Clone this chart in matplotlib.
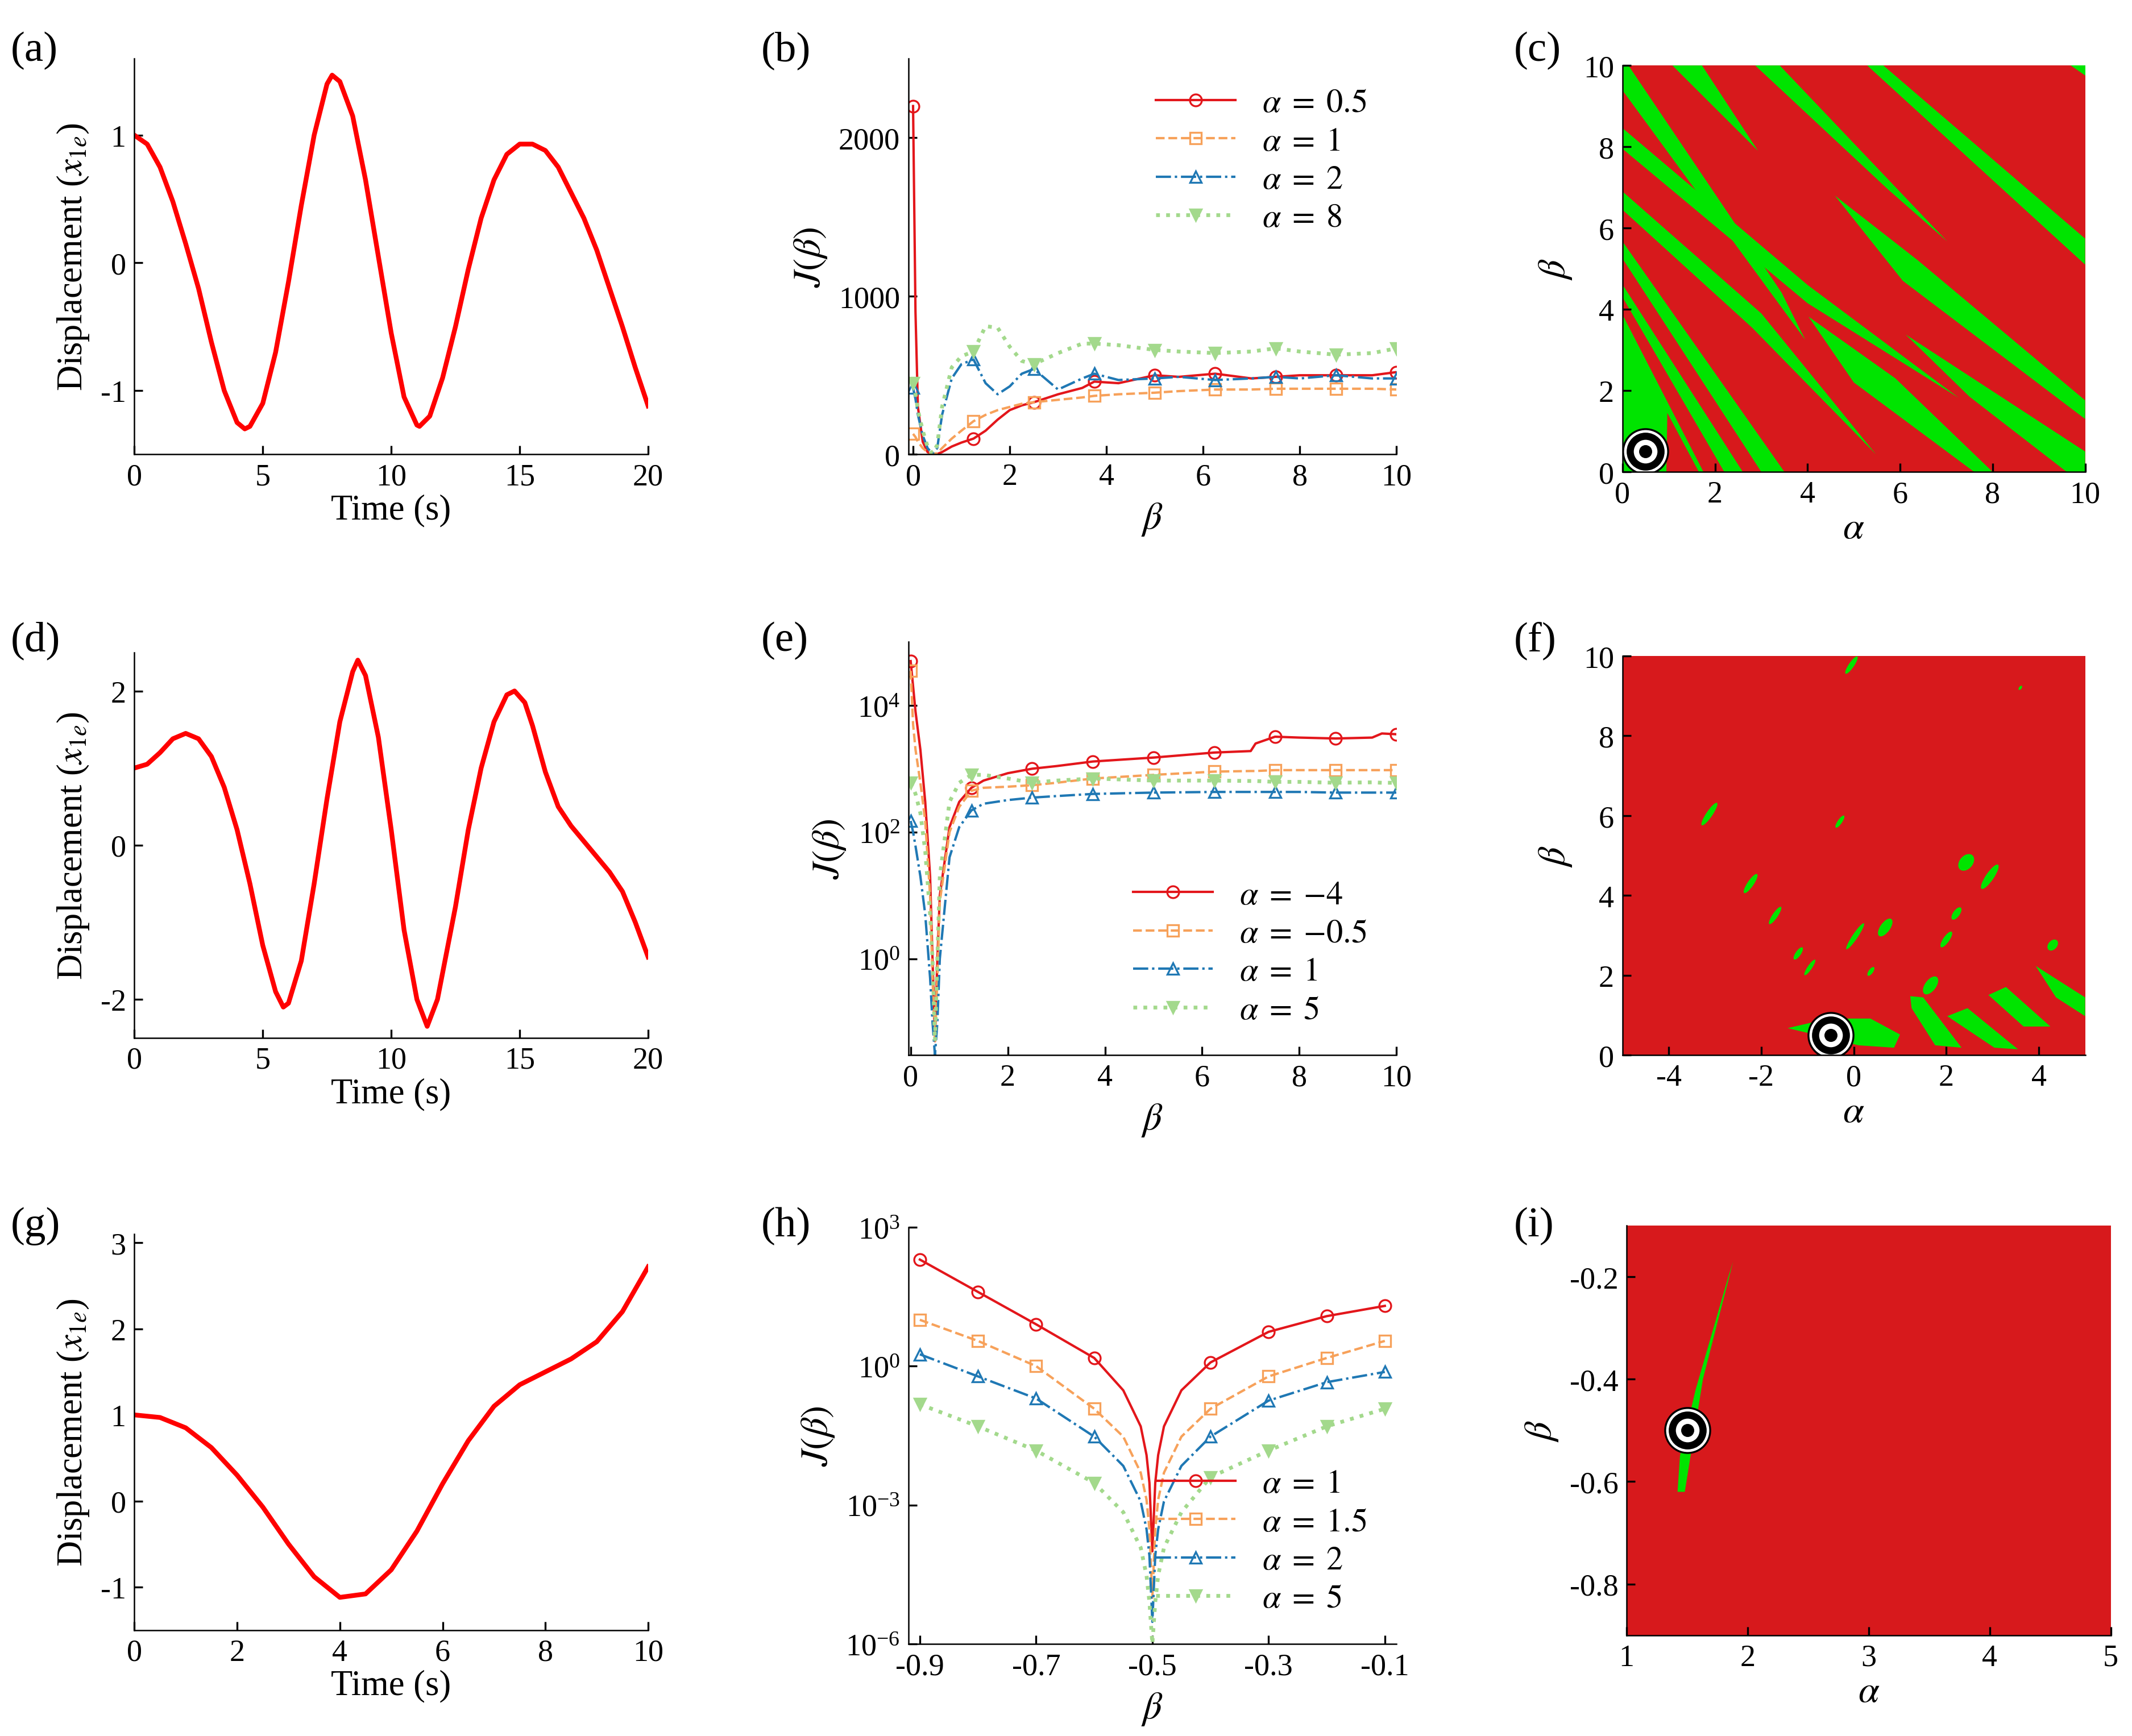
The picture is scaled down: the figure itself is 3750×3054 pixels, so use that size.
#!/usr/bin/env python3
"""Draw the 3x3 figure: displacement, J(beta) curves and (alpha, beta) stability maps."""

from __future__ import annotations

import matplotlib

matplotlib.use("Agg")
import matplotlib.pyplot as plt
import numpy as np
from matplotlib.patches import Ellipse, Polygon

# --- displacement curves -------------------------------------------------
t_a = [0, 0.5, 1, 1.5, 2, 2.5, 3, 3.5, 4, 4.3, 4.5, 5, 5.5, 6, 6.5, 7, 7.5, 7.7, 8, 8.5, 9,
       9.5, 10, 10.5, 11, 11.1, 11.5, 12, 12.5, 13, 13.5, 14, 14.5, 15, 15.5, 16, 16.5, 17,
       17.5, 18, 18.5, 19, 19.5, 20]
x_a = [1.0, 0.93, 0.75, 0.48, 0.15, -0.2, -0.62, -1.0, -1.25, -1.3, -1.28, -1.1, -0.7, -0.15,
       0.45, 1.0, 1.4, 1.47, 1.42, 1.15, 0.65, 0.05, -0.55, -1.05, -1.27, -1.28, -1.2, -0.9,
       -0.5, -0.05, 0.35, 0.65, 0.85, 0.93, 0.93, 0.88, 0.75, 0.55, 0.35, 0.1, -0.2, -0.5,
       -0.82, -1.12]
t_d = [0, 0.5, 1, 1.5, 2, 2.5, 3, 3.5, 4, 4.5, 5, 5.5, 5.8, 6, 6.5, 7, 7.5, 8, 8.5, 8.7, 9,
       9.5, 10, 10.5, 11, 11.4, 11.8, 12.5, 13, 13.5, 14, 14.5, 14.8, 15.2, 15.5, 16, 16.5,
       17, 17.5, 18, 18.5, 19, 19.5, 20]
x_d = [1.0, 1.05, 1.2, 1.38, 1.45, 1.38, 1.15, 0.75, 0.2, -0.5, -1.3, -1.9, -2.1, -2.05,
       -1.5, -0.5, 0.6, 1.6, 2.25, 2.4, 2.2, 1.4, 0.2, -1.1, -2.0, -2.35, -2.0, -0.8, 0.2,
       1.0, 1.6, 1.95, 2.0, 1.85, 1.55, 0.95, 0.5, 0.25, 0.05, -0.15, -0.35, -0.6, -1.0, -1.45]
t_g = [0, 0.5, 1, 1.5, 2, 2.5, 3, 3.5, 4, 4.5, 5, 5.5, 6, 6.5, 7, 7.5, 8, 8.5, 9, 9.5, 10]
x_g = [1.0, 0.97, 0.85, 0.62, 0.3, -0.07, -0.5, -0.88, -1.12, -1.08, -0.8, -0.35, 0.2, 0.7,
       1.1, 1.35, 1.5, 1.65, 1.85, 2.2, 2.72]

# --- J(beta), panel (b) ----------------------------------------------------
beta_b = [0, 0.05, 0.1, 0.2, 0.3, 0.4, 0.5, 0.6, 0.8, 1.0, 1.25, 1.5, 1.75, 2.0, 2.25, 2.5,
          3.0, 3.5, 3.75, 4.25, 5.0, 5.5, 6.25, 7.0, 7.5, 8.0, 8.75, 9.5, 10]
J_b = {
    "0.5": [2200, 900, 300, 80, 15, 2, 3, 15, 50, 75, 100, 150, 220, 280, 310, 330, 380, 420,
            460, 450, 500, 490, 510, 480, 490, 500, 500, 500, 520],
    "1": [130, 110, 80, 40, 15, 3, 8, 40, 100, 150, 210, 250, 280, 300, 320, 330, 345, 360,
          370, 380, 390, 400, 410, 410, 415, 415, 415, 415, 410],
    "2": [420, 350, 250, 120, 40, 5, 40, 250, 480, 570, 600, 450, 380, 430, 510, 540, 410,
          480, 510, 470, 480, 490, 470, 480, 490, 480, 500, 480, 480],
    "8": [450, 380, 280, 150, 50, 5, 60, 300, 550, 620, 650, 810, 800, 680, 590, 570, 640,
          700, 700, 690, 660, 650, 640, 650, 670, 650, 630, 640, 670],
}
marks_b = [0, 1.25, 2.5, 3.75, 5, 6.25, 7.5, 8.75, 10]

# --- J(beta), panel (e) ----------------------------------------------------
beta_e = [0, 0.05, 0.1, 0.2, 0.3, 0.4, 0.45, 0.5, 0.55, 0.6, 0.8, 1.0, 1.25, 1.5, 2.0, 2.5,
          3.0, 3.75, 5.0, 6.25, 7.0, 7.1, 7.5, 8.0, 8.75, 9.5, 9.7, 10]
J_e = {
    "-4": [5e4, 2e4, 8e3, 2000, 300, 20, 1, 0.05, 1, 10, 120, 300, 500, 650, 850, 1000, 1100,
           1300, 1500, 1800, 1900, 2500, 3200, 3100, 3000, 3100, 3600, 3500],
    "-0.5": [3.5e4, 5000, 2000, 600, 150, 10, 0.5, 0.05, 0.5, 8, 100, 250, 450, 500, 520, 550,
             600, 700, 800, 900, 920, 920, 950, 950, 950, 950, 950, 950],
    "1": [150, 100, 60, 20, 5, 0.5, 0.1, 0.03, 0.1, 1, 40, 120, 220, 280, 320, 350, 370, 400,
          420, 430, 430, 430, 430, 430, 420, 420, 420, 420],
    "5": [600, 500, 400, 200, 50, 5, 1, 0.05, 1, 20, 300, 600, 800, 800, 700, 600, 650, 700,
          650, 650, 640, 640, 620, 620, 600, 610, 600, 600],
}
marks_e = [0, 1.25, 2.5, 3.75, 5, 6.25, 7.5, 8.75, 10]

# --- J(beta), panel (h) ----------------------------------------------------
beta_h = [-0.9, -0.8, -0.7, -0.6, -0.55, -0.52, -0.51, -0.505, -0.5, -0.495, -0.49, -0.48,
          -0.45, -0.4, -0.3, -0.2, -0.1]
J_h = {
    "1": [200, 40, 8, 1.5, 0.3, 0.05, 0.012, 0.003, 1e-4, 0.003, 0.012, 0.05, 0.3, 1.2, 5.5,
          12, 20],
    "1.5": [10, 3.5, 1.0, 0.12, 0.03, 0.005, 0.0013, 3e-4, 1e-5, 3e-4, 0.0013, 0.005, 0.03,
            0.12, 0.6, 1.5, 3.5],
    "2": [1.8, 0.6, 0.2, 0.03, 0.007, 0.0012, 3e-4, 8e-5, 3e-6, 8e-5, 3e-4, 0.0012, 0.007,
          0.03, 0.18, 0.45, 0.75],
    "5": [0.15, 0.05, 0.015, 0.003, 7e-4, 1.2e-4, 3e-5, 8e-6, 1e-6, 8e-6, 3e-5, 1.2e-4, 7e-4,
          0.004, 0.015, 0.05, 0.12],
}
marks_h = [-0.9, -0.8, -0.7, -0.6, -0.4, -0.3, -0.2, -0.1]

# --- stable (green) regions of the maps, vertices as (alpha, beta) ------------
regions_c = [
    [(0, 10), (0.13, 10), (3.44, 4.41), (3.95, 3.25), (0, 9.39)],
    [(1.08, 10), (1.72, 10), (2.93, 7.9)],
    [(0, 8.46), (4.0, 4.6), (7.27, 1.82), (4.0, 4.15), (0, 7.95)],
    [(0, 6.9), (3.0, 3.9), (5.48, 0.43), (2.8, 3.55), (0, 6.45)],
    [(0, 5.67), (3.5, 0), (3.0, 0), (0, 5.25)],
    [(0, 4.61), (2.6, 0), (2.2, 0), (0, 4.3)],
    [(0, 3.87), (0, 0), (0.95, 0), (0.97, 1.45), (1.65, 0), (1.75, 0)],
    [(2.87, 10), (3.4, 10), (7.02, 5.67), (5.74, 6.95)],
    [(4.59, 6.8), (6.38, 5.21), (10, 1.76), (10, 1.3), (6.06, 4.7)],
    [(5.29, 10), (5.64, 10), (10, 5.74), (10, 5.1)],
    [(9.69, 10), (10, 10), (10, 9.75)],
    [(4.02, 3.82), (5.9, 2.3), (8.0, 0), (7.6, 0), (5.0, 2.2)],
    [(6.12, 3.38), (10, 0.5), (10, 0), (9.6, 0), (7.5, 1.85)],
]
regions_f = [
    [(-1.43, 0.68), (-0.54, 0.92), (0.36, 0.92), (1.0, 0.52), (0.87, 0.19), (0.1, 0.25),
     (-0.85, 0.52)],
    [(1.22, 1.48), (1.5, 1.45), (2.33, 0.19), (1.76, 0.25), (1.25, 1.18)],
    [(2.02, 0.98), (2.46, 1.18), (3.55, 0.15), (3.04, 0.19)],
    [(2.91, 1.51), (3.29, 1.71), (4.25, 0.72), (3.67, 0.72)],
    [(3.93, 2.24), (5, 1.45), (5, 0.98), (4.37, 1.45)],
]
blob_a = [2.43, 2.94, 0.68, 2.0, 0.03, 2.22, -1.2, -0.95, 1.66, 4.3, -0.05, -3.12, -2.23,
          -1.7, -0.3, 0.37, 3.6]
blob_b = [4.83, 4.47, 3.2, 2.9, 2.98, 3.55, 2.55, 2.2, 1.75, 2.76, 9.77, 6.04, 4.3, 3.5, 5.85,
          2.1, 9.2]
blob_w = [0.3, 0.18, 0.22, 0.14, 0.12, 0.15, 0.12, 0.1, 0.25, 0.2, 0.12, 0.14, 0.14, 0.12,
          0.1, 0.1, 0.06]
blob_h = [0.45, 0.7, 0.5, 0.45, 0.75, 0.35, 0.35, 0.45, 0.5, 0.3, 0.5, 0.65, 0.55, 0.5, 0.35,
          0.25, 0.12]
regions_i = [
    [(1.42, -0.62), (1.48, -0.62), (1.63, -0.4), (1.88, -0.17), (1.84, -0.2), (1.57, -0.42),
     (1.44, -0.55)],
]
targets = [(0.5, 0.5), (-0.5, 0.5), (1.5, -0.5)]

RED_MAP = "#d7191c"
GREEN_MAP = "#00e400"
STYLES = [  # color, linestyle, marker, marker face
    ("#e3161b", "-", "o", "none"),
    ("#f7a15a", "--", "s", "none"),
    ("#1f78b4", "-.", "^", "none"),
    ("#a3d98c", ":", "v", "#a3d98c"),
]

plt.rcParams["font.family"] = "serif"
plt.rcParams["font.serif"] = ["Liberation Serif", "DejaVu Serif"]
plt.rcParams["mathtext.fontset"] = "stix"
plt.rcParams["axes.unicode_minus"] = False
plt.rcParams["font.size"] = 13
plt.rcParams["xtick.direction"] = "in"
plt.rcParams["ytick.direction"] = "in"
plt.rcParams["axes.linewidth"] = 0.6


def clean(ax):
    ax.spines["top"].set_visible(False)
    ax.spines["right"].set_visible(False)


def draw_disp(ax, t, x, xticks, yticks, ylim):
    ax.plot(t, x, color="#ff0000", lw=2)
    ax.set_xlim(t[0], t[-1])
    ax.set_ylim(*ylim)
    ax.set_xticks(xticks)
    ax.set_yticks(yticks)
    ax.set_xlabel("Time (s)", fontsize=15, labelpad=1)
    ax.set_ylabel("Displacement ($x_{1e}$)", fontsize=15)
    clean(ax)


def draw_J(ax, beta, curves, marks, loc):
    beta = np.array(beta)
    idx = list(np.where(np.isin(beta, marks))[0])
    for (alpha, vals), (col, ls, mk, mfc) in zip(curves.items(), STYLES):
        ax.plot(beta, vals, color=col, ls=ls, lw=1.0 if ls != ":" else 1.6, marker=mk,
                mfc=mfc, ms=5, mew=0.8, markevery=idx,
                label=r"$\alpha\;=\;{%s}$" % alpha)
    ax.legend(loc=loc, frameon=False, fontsize=14, handlelength=2.4, labelspacing=0.25)
    ax.set_xlabel(r"$\beta$", fontsize=16)
    ax.set_ylabel(r"$J(\beta)$", fontsize=16)
    clean(ax)


def draw_map(ax, regions, xlim, ylim, xticks, yticks, target, blobs=None):
    ax.add_patch(Polygon([(xlim[0], ylim[0]), (xlim[1], ylim[0]), (xlim[1], ylim[1]),
                          (xlim[0], ylim[1])], color=RED_MAP, lw=0))
    for poly in regions:
        ax.add_patch(Polygon(poly, color=GREEN_MAP, lw=0))
    if blobs is not None:
        for a, b, w, h in zip(*blobs):
            ax.add_patch(Ellipse((a, b), w, h, angle=-30, color=GREEN_MAP, lw=0))
    ax.plot(*target, "o", ms=19, mfc="white", mec="black", mew=0.8)
    ax.plot(*target, "o", ms=13, mfc="white", mec="black", mew=3)
    ax.plot(*target, "o", ms=4.5, mfc="black", mec="black")
    ax.set_xlim(*xlim)
    ax.set_ylim(*ylim)
    ax.set_xticks(xticks)
    ax.set_yticks(yticks)
    ax.set_xlabel(r"$\alpha$", fontsize=16, labelpad=1)
    ax.set_ylabel(r"$\beta$", fontsize=16)
    clean(ax)


def main():
    fig = plt.figure(figsize=(12.5, 10.183), dpi=300)

    ax_a = fig.add_axes([0.063, 0.738, 0.241, 0.228])
    draw_disp(ax_a, t_a, x_a, [0, 5, 10, 15, 20], [-1, 0, 1], (-1.5, 1.6))
    ax_d = fig.add_axes([0.063, 0.402, 0.241, 0.222])
    draw_disp(ax_d, t_d, x_d, [0, 5, 10, 15, 20], [-2, 0, 2], (-2.5, 2.5))
    ax_g = fig.add_axes([0.063, 0.061, 0.241, 0.228])
    draw_disp(ax_g, t_g, x_g, [0, 2, 4, 6, 8, 10], [-1, 0, 1, 2, 3], (-1.5, 3.1))

    ax_b = fig.add_axes([0.426, 0.738, 0.229, 0.228])
    draw_J(ax_b, beta_b, J_b, marks_b, "upper right")
    ax_b.set_xlim(-0.1, 10)
    ax_b.set_ylim(0, 2500)
    ax_b.set_xticks([0, 2, 4, 6, 8, 10])
    ax_b.set_yticks([0, 1000, 2000])

    ax_e = fig.add_axes([0.426, 0.392, 0.229, 0.238])
    ax_e.set_yscale("log")
    draw_J(ax_e, beta_e, J_e, marks_e, "lower right")
    ax_e.set_xlim(-0.05, 10)
    ax_e.set_ylim(0.03, 1e5)
    ax_e.set_xticks([0, 2, 4, 6, 8, 10])
    ax_e.set_yticks([1, 100, 1e4])
    ax_e.minorticks_off()

    ax_h = fig.add_axes([0.426, 0.053, 0.229, 0.24])
    ax_h.set_yscale("log")
    draw_J(ax_h, beta_h, J_h, marks_h, "lower right")
    ax_h.set_xlim(-0.92, -0.08)
    ax_h.set_ylim(1e-6, 1e3)
    ax_h.set_xticks([-0.9, -0.7, -0.5, -0.3, -0.1])
    ax_h.set_yticks([1e-6, 1e-3, 1, 1e3])
    ax_h.minorticks_off()

    ax_c = fig.add_axes([0.761, 0.728, 0.217, 0.234])
    draw_map(ax_c, regions_c, (0, 10), (0, 10), [0, 2, 4, 6, 8, 10], [0, 2, 4, 6, 8, 10],
             targets[0])
    ax_f = fig.add_axes([0.761, 0.392, 0.217, 0.23])
    draw_map(ax_f, regions_f, (-5, 5), (0, 10), [-4, -2, 0, 2, 4], [0, 2, 4, 6, 8, 10],
             targets[1], blobs=(blob_a, blob_b, blob_w, blob_h))
    ax_i = fig.add_axes([0.763, 0.058, 0.227, 0.236])
    draw_map(ax_i, regions_i, (1, 5), (-0.9, -0.1), [1, 2, 3, 4, 5],
             [-0.8, -0.6, -0.4, -0.2], targets[2])

    for label, x, y in [("(a)", 0.005, 0.965), ("(b)", 0.357, 0.965), ("(c)", 0.71, 0.965),
                        ("(d)", 0.005, 0.625), ("(e)", 0.357, 0.625), ("(f)", 0.71, 0.625),
                        ("(g)", 0.005, 0.288), ("(h)", 0.357, 0.288), ("(i)", 0.71, 0.288)]:
        fig.text(x, y, label, fontsize=18)

    fig.savefig("out.png", dpi=300)
    plt.close(fig)


if __name__ == "__main__":
    main()
